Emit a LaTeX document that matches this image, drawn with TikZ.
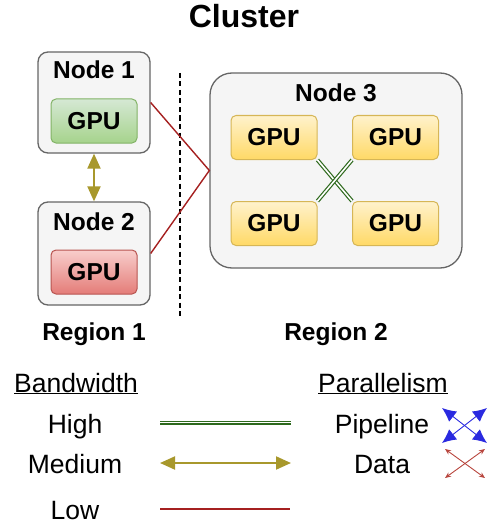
\documentclass[tikz,border=0pt]{standalone}
\usepackage{fontspec}
\setsansfont{Liberation Sans}
\usetikzlibrary{arrows.meta}

% colours
\definecolor{hostfill}{HTML}{F5F5F5}
\definecolor{hostline}{HTML}{666666}
\definecolor{greentop}{HTML}{D5E8D4}
\definecolor{greenbot}{HTML}{A6D38C}
\definecolor{greenline}{HTML}{82B366}
\definecolor{redtop}{HTML}{F8CECC}
\definecolor{redbot}{HTML}{E47C78}
\definecolor{redline}{HTML}{B85450}
\definecolor{yellowtop}{HTML}{FFF2CC}
\definecolor{yellowbot}{HTML}{FFD966}
\definecolor{yellowline}{HTML}{D6B656}
\definecolor{lowred}{HTML}{A52020}
\definecolor{medolive}{HTML}{A8982C}
\definecolor{highgreen}{HTML}{2F6A1E}
\definecolor{pipeblue}{HTML}{2A2AE0}
\definecolor{datared}{HTML}{B8463E}

\tikzset{
    hostbox/.style={draw=hostline, fill=hostfill, line width=1.3pt, inner sep=0pt},
    gpubox/.style={line width=1pt, rounded corners=5pt, minimum width=86pt,
        minimum height=44pt, inner sep=0pt,
        font=\sffamily\bfseries\fontsize{24.5}{28}\selectfont},
    greengpu/.style={gpubox, draw=greenline, top color=greentop, bottom color=greenbot},
    redgpu/.style={gpubox, draw=redline, top color=redtop, bottom color=redbot},
    yellowgpu/.style={gpubox, draw=yellowline, top color=yellowtop, bottom color=yellowbot},
    boldlabel/.style={anchor=base, font=\sffamily\bfseries\fontsize{24.5}{28}\selectfont},
    legendtext/.style={anchor=base, font=\sffamily\fontsize{26.5}{30}\selectfont},
    lowlink/.style={draw=lowred, line width=1.4pt},
    medlink/.style={draw=medolive, line width=2pt, {Triangle[length=15pt,width=13pt]}-{Triangle[length=15pt,width=13pt]}},
    highlink/.style={draw=highgreen, double=white, double distance=1.6pt, line width=1.2pt},
}

\begin{document}
\begin{tikzpicture}[x=1pt, y=-1pt]
    \useasboundingbox (0,0) rectangle (490,524);

    % --- Title ---
    \node[anchor=base, font=\sffamily\bfseries\fontsize{32}{36}\selectfont] (title) at (244,28) {Cluster};

    % --- Region 1: two hosts ---
    \node[hostbox, rounded corners=10pt, minimum width=112pt, minimum height=101pt] (node1) at (94,102.5) {};
    \node[boldlabel] (node1lbl) at (94,79) {Node 1};
    \node[greengpu] (gpu1) at (94,121) {GPU};

    \node[hostbox, rounded corners=10pt, minimum width=112pt, minimum height=103pt] (node2) at (94,253.5) {};
    \node[boldlabel] (node2lbl) at (94,230) {Node 2};
    \node[redgpu] (gpu2) at (94,272) {GPU};

    % --- Region 2: one host, four GPUs ---
    \node[hostbox, rounded corners=22pt, minimum width=252pt, minimum height=195pt] (node3) at (336,170.5) {};
    \node[boldlabel] (node3lbl) at (336,102) {Node 3};
    \node[yellowgpu] (gpuTL) at (274,137.5) {GPU};
    \node[yellowgpu] (gpuTR) at (395.5,137.5) {GPU};
    \node[yellowgpu] (gpuBL) at (274,223.5) {GPU};
    \node[yellowgpu] (gpuBR) at (395.5,223.5) {GPU};

    % --- Region border ---
    \coordinate (borderTop) at (180,73);
    \coordinate (borderBot) at (180,318);
    \draw[line width=1.5pt, dash pattern=on 5pt off 3.5pt] (borderTop) -- (borderBot);

    \node[boldlabel] (region1) at (94,340) {Region 1};
    \node[boldlabel] (region2) at (336,340) {Region 2};

    % --- Links ---
    \draw[lowlink] (node1.east) -- (node3.west) -- (node2.east);
    \draw[medlink] (node1.south) -- (node2.north);
    \draw[highlink] (gpuTL.south east) -- (gpuBR.north west);
    \draw[highlink] (gpuTR.south west) -- (gpuBL.north east);

    % --- Legend: bandwidth ---
    \node[legendtext] (bwhead) at (76,392) {\underline{Bandwidth}};
    \node[legendtext] (high) at (75,433) {High};
    \node[legendtext] (medium) at (75,473) {Medium};
    \node[legendtext] (low) at (75,519) {Low};

    \coordinate (highA) at (160,422.5);
    \coordinate (highB) at (291,422.5);
    \coordinate (medA) at (160,463);
    \coordinate (medB) at (291,463);
    \coordinate (lowA) at (160,509);
    \coordinate (lowB) at (290,509);
    \draw[highlink] (highA) -- (highB);
    \draw[medlink] (medA) -- (medB);
    \draw[lowlink] (lowA) -- (lowB);

    % --- Legend: parallelism ---
    \node[legendtext] (parhead) at (383,392) {\underline{Parallelism}};
    \node[legendtext] (pipe) at (382,433) {Pipeline};
    \node[legendtext] (data) at (382,473) {Data};

    % Pipeline symbol
    \coordinate (pipeTL) at (442,408);
    \coordinate (pipeTR) at (487,408);
    \coordinate (pipeBL) at (442,443);
    \coordinate (pipeBR) at (487,443);
    \draw[pipeblue, line width=0.9pt, {Latex[length=14pt,width=13pt]}-{Latex[length=14pt,width=13pt]}] (pipeTL) -- (pipeBR);
    \draw[pipeblue, line width=0.9pt, {Latex[length=14pt,width=13pt]}-{Latex[length=14pt,width=13pt]}] (pipeTR) -- (pipeBL);

    % Data symbol
    \coordinate (dataTL) at (445,449);
    \coordinate (dataTR) at (485,449);
    \coordinate (dataBL) at (445,478);
    \coordinate (dataBR) at (485,478);
    \draw[datared, line width=0.9pt, {Stealth[length=6pt,width=5pt]}-{Stealth[length=6pt,width=5pt]}] (dataTL) -- (dataBR);
    \draw[datared, line width=0.9pt, {Stealth[length=6pt,width=5pt]}-{Stealth[length=6pt,width=5pt]}] (dataTR) -- (dataBL);

\end{tikzpicture}
\end{document}
